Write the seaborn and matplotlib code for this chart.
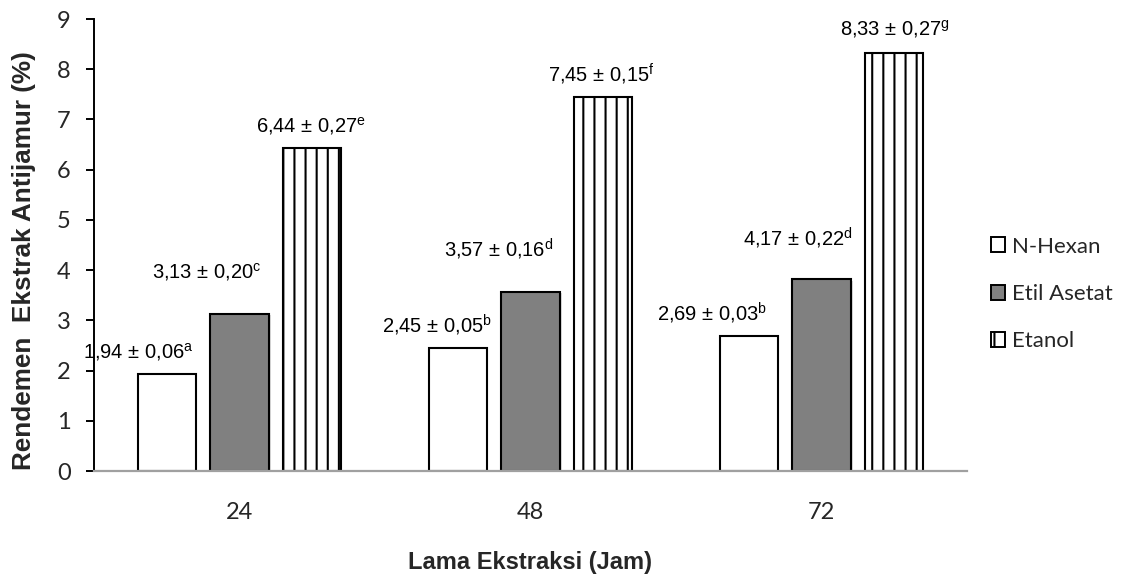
import numpy as np
import pandas as pd
import matplotlib
matplotlib.use("Agg")
import matplotlib.pyplot as plt
import matplotlib.patheffects as pe
from matplotlib.patches import Patch
from matplotlib.backend_bases import GraphicsContextBase
import seaborn as sns

# data
hours = ["24", "48", "72"]
solvents = ["N-Hexan", "Etil Asetat", "Etanol"]
nhexan = [1.94, 2.45, 2.69]
etil_asetat = [3.13, 3.57, 3.82]
etanol = [6.44, 7.45, 8.33]

nhexan_txt = ["1,94 ± 0,06", "2,45 ± 0,05", "2,69 ± 0,03"]
etil_txt = ["3,13 ± 0,20", "3,57 ± 0,16", "4,17 ± 0,22"]
etanol_txt = ["6,44 ± 0,27", "7,45 ± 0,15", "8,33 ± 0,27"]
nhexan_sup = ["a", "b", "b"]
etil_sup = ["c", "d", "d"]
etanol_sup = ["e", "f", "g"]

# label offsets from bar top-centre (pixels), placed by hand in the original
label_off = {
    "N-Hexan": [(-28, 22), (-21, 23), (-37, 23)],
    "Etil Asetat": [(-33, 42), (-32, 42), (-24, 41)],
    "Etanol": [(-1, 22), (-2, 22), (1, 24)],
}

df = pd.DataFrame({
    "jam": hours * 3,
    "pelarut": np.repeat(solvents, 3),
    "rendemen": nhexan + etil_asetat + etanol,
})
texts = {"N-Hexan": (nhexan_txt, nhexan_sup),
         "Etil Asetat": (etil_txt, etil_sup),
         "Etanol": (etanol_txt, etanol_sup)}

# wider vertical hatch spacing (about 9 lines per inch) like the excel pattern
_hatch_path = GraphicsContextBase.get_hatch_path
GraphicsContextBase.get_hatch_path = lambda self, density=6.0: _hatch_path(self, 9.3)

sns.set_style("white")
plt.rcParams["font.family"] = ["Lato", "DejaVu Sans"]
plt.rcParams["mathtext.fontset"] = "custom"
plt.rcParams["mathtext.rm"] = "Liberation Sans"
plt.rcParams["mathtext.it"] = "Liberation Sans"
plt.rcParams["hatch.linewidth"] = 1.5

DPI = 100
fig = plt.figure(figsize=(1137 / DPI, 575 / DPI), dpi=DPI)
ax = fig.add_axes([94 / 1137, 1 - 471 / 575, (967 - 94) / 1137, (471 - 19) / 575])

sns.barplot(data=df, x="jam", y="rendemen", hue="pelarut", order=hours,
            hue_order=solvents, width=0.75, gap=0.2, legend=False, ax=ax,
            palette=["white", "#808080", "white"])

faces = {"N-Hexan": "white", "Etil Asetat": "#808080", "Etanol": "white"}
hatches = {"N-Hexan": None, "Etil Asetat": None, "Etanol": "|"}
px2pt = 72 / DPI
for cont, solv in zip(ax.containers, solvents):
    txts, sups = texts[solv]
    for i, bar in enumerate(cont):
        bar.set_facecolor(faces[solv])
        bar.set_edgecolor("black")
        bar.set_linewidth(1.5)
        if hatches[solv]:
            bar.set_hatch(hatches[solv])
        if solv == "Etil Asetat":
            bar.set_path_effects([pe.SimplePatchShadow(offset=(2, -1), shadow_rgbFace="#999999", alpha=0.35),
                                  pe.Normal()])
        cx = bar.get_x() + bar.get_width() / 2
        top = bar.get_height()
        dx, dy = label_off[solv][i]
        ax.annotate(txts[i] + r"$^{\mathrm{" + sups[i] + "}}$", xy=(cx, top),
                    xytext=(dx * px2pt, dy * px2pt), textcoords="offset points",
                    ha="center", va="center", fontsize=14.5,
                    family="Liberation Sans", color="black")

ax.set_ylim(0, 9)
ax.set_yticks(range(0, 10))
ax.set_xlim(-0.5, 2.5)

for s in ["top", "right"]:
    ax.spines[s].set_visible(False)
ax.spines["left"].set_color("black")
ax.spines["left"].set_linewidth(1.4)
ax.spines["bottom"].set_color("#a0a0a0")
ax.spines["bottom"].set_linewidth(1.6)

ax.tick_params(axis="y", which="major", left=True, length=5.8, width=1.4,
               color="black", pad=11, labelsize=17)
ax.tick_params(axis="x", bottom=False, length=0, pad=22, labelsize=17)

ax.set_xlabel("Lama Ekstraksi (Jam)", fontsize=17, fontweight="bold",
              family="Liberation Sans")
ax.set_ylabel("Rendemen  Ekstrak Antijamur (%)", fontsize=18.8, fontweight="bold",
              family="Liberation Sans")
ax.xaxis.label.set_va("center")
ax.yaxis.label.set_va("center")
ax.xaxis.set_label_coords(0.5, (471 - 562) / 452)
ax.yaxis.set_label_coords((24 - 94) / 873, (471 - 261) / 452)

handles = [Patch(facecolor=faces[s], edgecolor="black", linewidth=1.4,
                 hatch=hatches[s]) for s in solvents]
fig.legend(handles, solvents, loc="center left", bbox_to_anchor=(991 / 1137, 1 - 294 / 575),
           frameon=False, fontsize=16, handlelength=0.65, handleheight=0.65,
           handletextpad=0.3, labelspacing=1.23, borderpad=0, borderaxespad=0)

fig.savefig("out.png", dpi=DPI)
